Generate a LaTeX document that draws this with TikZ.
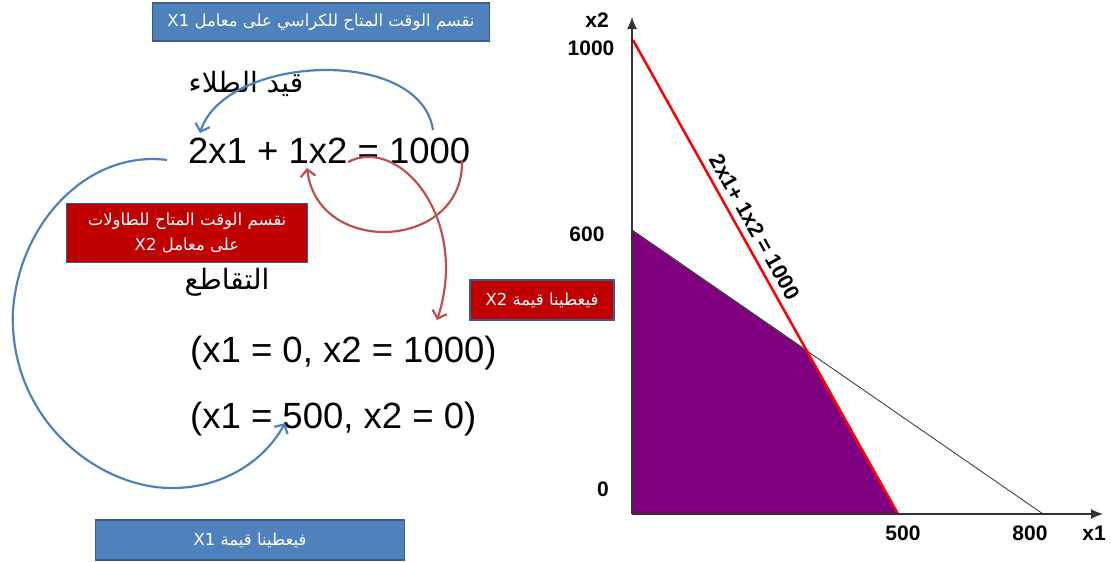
\documentclass[tikz,border=0pt]{standalone}
\usepackage{fontspec}
\setmainfont{Liberation Sans}
\newfontfamily\arabicfont[Script=Arabic]{DejaVu Sans}
\TeXXeTstate=1
\usetikzlibrary{arrows.meta}
\definecolor{officeblue}{HTML}{4F81BD}
\definecolor{boxedge}{HTML}{385D8A}
\definecolor{boxred}{HTML}{C00000}
\definecolor{arcred}{HTML}{C0504D}
\definecolor{regionpurple}{HTML}{800080}
\tikzset{
  bluebox/.style={fill=officeblue, draw=boxedge, line width=1.5pt, text=white, inner sep=0pt, font=\arabicfont\fontsize{16.5}{25}\selectfont},
  redbox/.style={fill=boxred, draw=boxedge, line width=1.5pt, text=white, inner sep=0pt, align=center, font=\arabicfont\fontsize{16.5}{25}\selectfont},
  arabiclabel/.style={inner sep=0pt, font=\arabicfont\fontsize{28}{32}\selectfont},
  eqtext/.style={inner sep=0pt, anchor=base west, font=\fontsize{36.5}{40}\selectfont},
  axislabel/.style={inner sep=0pt, font=\bfseries\fontsize{21}{24}\selectfont},
  bluearc/.style={draw=officeblue, line width=2.2pt, -{Straight Barb[length=7pt,width=15pt]}},
  redarc/.style={draw=arcred, line width=2.2pt, -{Straight Barb[length=7pt,width=15pt]}},
  axis/.style={draw=black!80, line width=1.2pt, -{Latex[length=12pt,width=10pt]}}
}
\begin{document}
\begin{tikzpicture}[x=1pt, y=-1pt]
\useasboundingbox (0,0) rectangle (1111,562);
\node[bluebox, minimum width=337pt, minimum height=38pt] (chairbox) at (321,22) {\beginR نقسم الوقت المتاح للكراسي على معامل \beginL X1\endL\endR};
\node[arabiclabel] (paintlabel) at (246,84) {\beginR قيد الطلاء\endR};
\node[eqtext] (paint) at (188,163) {2x1 + 1x2 = 1000};
\node[redbox, minimum width=241pt, minimum height=59pt] (tablebox) at (187,233) {\beginR نقسم الوقت المتاح للطاولات\endR\\\beginR على معامل \beginL X2\endL\endR};
\node[arabiclabel] (crosslabel) at (227,282) {\beginR التقاطع\endR};
\node[eqtext] (cross1) at (190,362) {(x1 = 0, x2 = 1000)};
\node[eqtext] (cross2) at (190,428) {(x1 = 500, x2 = 0)};
\node[redbox, minimum width=144pt, minimum height=40pt] (gotx2) at (542,300) {\beginR فيعطينا قيمة \beginL X2\endL\endR};
\node[bluebox, minimum width=309pt, minimum height=40pt] (gotx1) at (250,540) {\beginR فيعطينا قيمة \beginL X1\endL\endR};

\coordinate (top1000) at (433,130);
\coordinate (top2x1) at (200,133);
\coordinate (left2x1) at (167,160);
\coordinate (at500) at (285,423);
\coordinate (low1000) at (462,160);
\coordinate (low1x2) at (307,168);
\coordinate (after1x2) at (348,162);
\coordinate (atgotx2) at (437,320);
\draw[bluearc] (top1000) .. controls (420,45) and (225,55) .. (top2x1);
\draw[bluearc] (left2x1) .. controls (90,150) and (20,220) .. (13,310) .. controls (8,420) and (100,490) .. (175,488) .. controls (225,487) and (265,460) .. (at500);
\draw[redarc] (low1000) .. controls (465,250) and (318,258) .. (low1x2);
\draw[redarc] (after1x2) .. controls (400,135) and (470,220) .. (atgotx2);

\coordinate (O) at (632,514);
\coordinate (x2top) at (632,230);
\coordinate (meet) at (806,350);
\coordinate (x1end) at (898,514);
\coordinate (y1000) at (633,40);
\coordinate (x800) at (1043,514);
\fill[regionpurple, draw=black!60, line width=0.8pt] (x2top) -- (meet) -- (x1end) -- (O) -- cycle;
\draw[black!75, line width=0.9pt] (x2top) -- (x800);
\draw[red, line width=2.5pt] (y1000) -- (x1end) node[sloped, above, pos=0.41, inner sep=6pt, text=black, font=\bfseries\fontsize{21.5}{24}\selectfont] (redlabel) {2x1+ 1x2 = 1000};
\draw[axis] (O) -- (1103,514);
\draw[axis] (O) -- (632,17);
\node[axislabel] (lx2) at (597,20) {x2};
\node[axislabel] (l1000) at (591,48) {1000};
\node[axislabel] (l600) at (587,234) {600};
\node[axislabel] (l0) at (603,489) {0};
\node[axislabel] (l500) at (903,533) {500};
\node[axislabel] (l800) at (1030,533) {800};
\node[axislabel] (lx1) at (1094,533) {x1};
\end{tikzpicture}
\end{document}
